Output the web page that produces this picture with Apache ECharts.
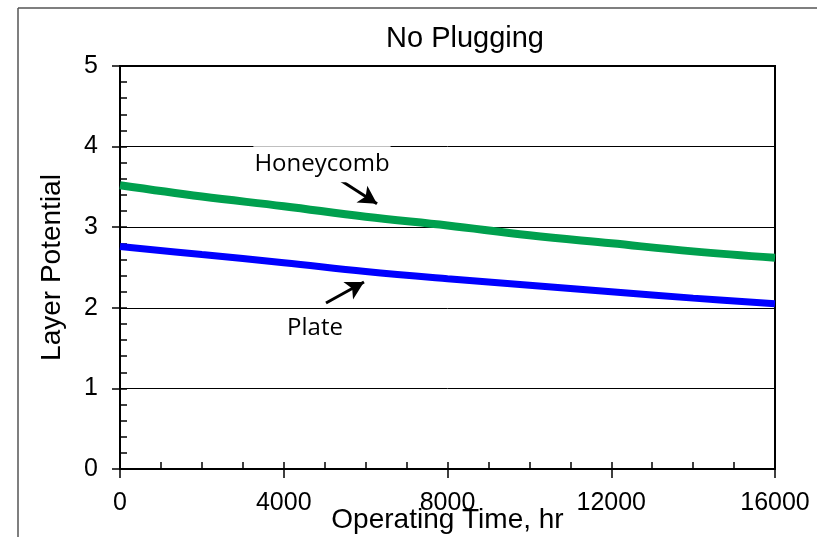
<!DOCTYPE html>
<html>
<head>
<meta charset="utf-8">
<script src="https://cdn.jsdelivr.net/npm/echarts@6/dist/echarts.min.js"></script>
<style>
html,body{margin:0;padding:0;background:#fff;}
#c{width:817px;height:537px;}
</style>
</head>
<body>
<div id="c"></div>
<script>
// Data
var hours = [0, 2000, 4000, 6000, 8000, 10000, 12000, 14000, 16000];
var honeycomb = [3.52, 3.38, 3.26, 3.13, 3.02, 2.90, 2.80, 2.70, 2.62];
var plate = [2.76, 2.66, 2.56, 2.45, 2.36, 2.28, 2.20, 2.12, 2.05];
var xTicks = [0, 4000, 8000, 12000, 16000];
var yTicks = [0, 1, 2, 3, 4, 5];
// Annotations (data coordinates)
var honeyLabel = {text: 'Honeycomb', at: [4934, 3.78]};
var plateLabel = {text: 'Plate', at: [4763, 1.75]};
var honeyArrow = [[5300, 3.61], [6278, 3.29]];
var plateArrow = [[5032, 2.06], [5960, 2.32]];

function pairs(xs, ys) { return xs.map(function (x, i) { return [x, ys[i]]; }); }

var FONT = "'Liberation Sans', Arial, sans-serif";
var LBLFONT = "'Open Sans', 'Liberation Sans', sans-serif";

var chart = echarts.init(document.getElementById('c'), null, {renderer: 'canvas'});

var arrowLine = function (seg) {
  return [
    {coord: seg[0], symbol: 'none'},
    {coord: seg[1], symbol: 'arrow', symbolSize: [15, 18]}
  ];
};

chart.setOption({
  animation: false,
  backgroundColor: '#fff',
  title: {
    text: 'No Plugging',
    left: 460, top: 19, textAlign: 'center',
    textStyle: {fontFamily: FONT, fontSize: 29, fontWeight: 'normal', color: '#000'}
  },
  grid: {
    left: 120, top: 66, width: 655, height: 403,
    containLabel: false, outerBoundsMode: 'none',
    show: true, borderColor: '#000', borderWidth: 2, backgroundColor: 'transparent'
  },
  xAxis: [{
    type: 'value', min: xTicks[0], max: xTicks[xTicks.length - 1], interval: 4000,
    name: 'Operating Time, hr', nameLocation: 'middle', nameGap: 37, nameMoveOverlap: false,
    nameTextStyle: {fontFamily: FONT, fontSize: 28, color: '#000'},
    axisLine: {show: true, lineStyle: {color: '#000', width: 2}},
    axisTick: {show: true, inside: false, length: 9, lineStyle: {color: '#000', width: 1.5}},
    axisLabel: {fontFamily: FONT, fontSize: 25, color: '#000', margin: 22,
      formatter: function (v) { return String(v); }},
    splitLine: {show: false}
  }, {
    type: 'value', min: 0, max: 16000, interval: 1000, position: 'bottom',
    axisLine: {show: false},
    axisTick: {show: true, inside: true, length: 7, lineStyle: {color: '#000', width: 1.5}},
    axisLabel: {show: false}, splitLine: {show: false}
  }],
  yAxis: [{
    type: 'value', min: yTicks[0], max: yTicks[yTicks.length - 1], interval: 1,
    name: 'Layer Potential', nameLocation: 'middle', nameGap: 54, nameMoveOverlap: false,
    nameTextStyle: {fontFamily: FONT, fontSize: 28, color: '#000'},
    axisLine: {show: true, lineStyle: {color: '#000', width: 2}},
    axisTick: {show: true, inside: false, length: 8, lineStyle: {color: '#000', width: 1.5}},
    axisLabel: {fontFamily: FONT, fontSize: 25, color: '#000', margin: 22},
    splitLine: {show: true, lineStyle: {color: '#000', width: 1}}
  }, {
    type: 'value', min: 0, max: 5, interval: 0.2, position: 'left',
    axisLine: {show: false},
    axisTick: {show: true, inside: true, length: 7, lineStyle: {color: '#000', width: 1.5}},
    axisLabel: {show: false}, splitLine: {show: false}
  }],
  series: [{
    name: 'Honeycomb', type: 'line', smooth: 0.4, showSymbol: false,
    data: pairs(hours, honeycomb),
    lineStyle: {color: '#00A04E', width: 8},
    itemStyle: {color: '#00A04E'},
    z: 3,
    markLine: {
      silent: true, animation: false,
      lineStyle: {color: '#000', width: 3, type: 'solid'},
      label: {show: false},
      data: [arrowLine(honeyArrow)]
    },
    markPoint: {
      silent: true, symbol: 'rect', symbolSize: 0,
      data: [{coord: honeyLabel.at, value: honeyLabel.text}],
      label: {
        show: true, formatter: honeyLabel.text, position: 'inside',
        fontFamily: LBLFONT, fontSize: 24, color: '#000',
        backgroundColor: '#fff', padding: [8, 1, 4, 1]
      }
    }
  }, {
    name: 'Plate', type: 'line', smooth: 0.4, showSymbol: false,
    data: pairs(hours, plate),
    lineStyle: {color: '#0000FF', width: 7},
    itemStyle: {color: '#0000FF'},
    z: 3,
    markLine: {
      silent: true, animation: false,
      lineStyle: {color: '#000', width: 3, type: 'solid'},
      label: {show: false},
      data: [arrowLine(plateArrow)]
    },
    markPoint: {
      silent: true, symbol: 'rect', symbolSize: 0,
      data: [{coord: plateLabel.at, value: plateLabel.text}],
      label: {
        show: true, formatter: plateLabel.text, position: 'inside',
        fontFamily: LBLFONT, fontSize: 24, color: '#000'
      }
    }
  }],
  graphic: [
    {type: 'line', shape: {x1: 18, y1: 8, x2: 18, y2: 537}, style: {stroke: '#555', lineWidth: 1.5}},
    {type: 'line', shape: {x1: 18, y1: 8, x2: 817, y2: 8}, style: {stroke: '#555', lineWidth: 1.5}}
  ]
});
</script>
</body>
</html>
